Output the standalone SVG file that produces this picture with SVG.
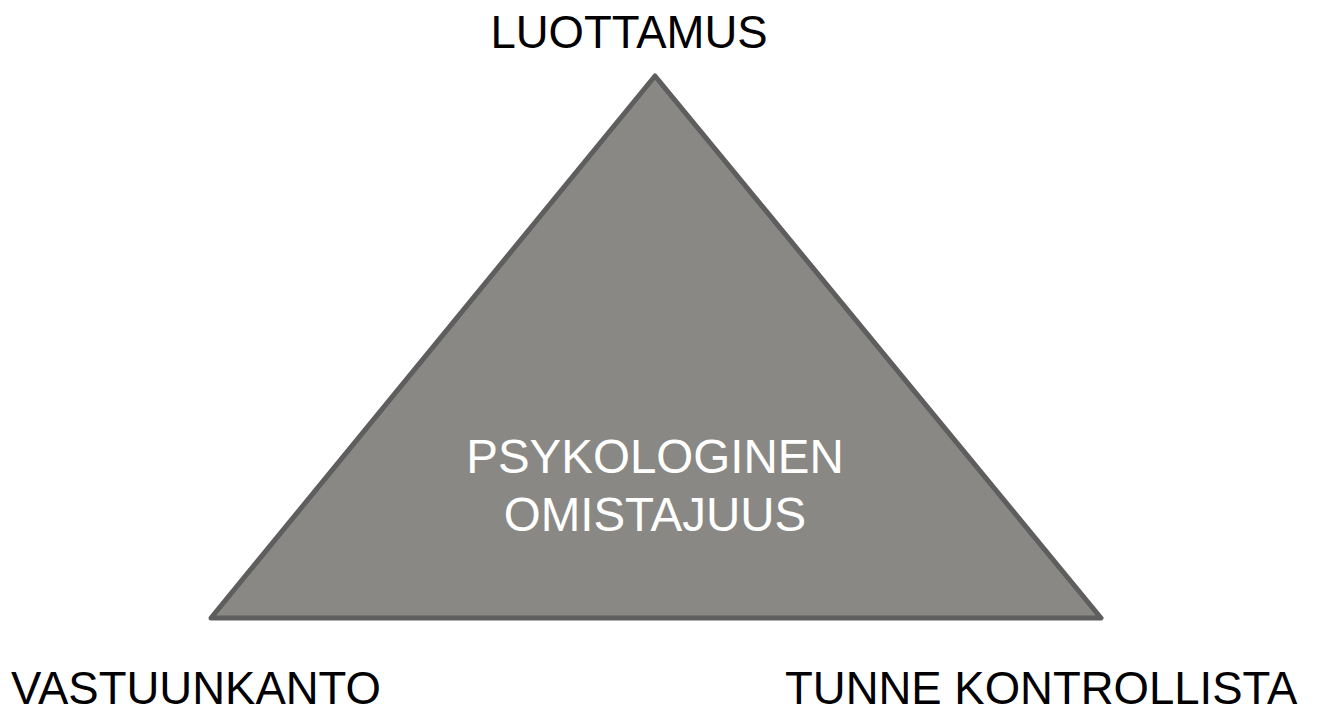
<svg xmlns="http://www.w3.org/2000/svg" width="1330" height="710" viewBox="0 0 1330 710">
<style>
.lbl{font-family:"Liberation Sans",Arial,sans-serif;font-size:45.5px;fill:#000}
.ctr{font-family:"Liberation Sans",Arial,sans-serif;font-size:47.5px;fill:#fff;text-anchor:middle}
.tri{fill:#8a8884;stroke:#5e5e5e;stroke-width:5;stroke-linejoin:round}
</style>
<rect width="1330" height="710" fill="#fff"/>
<g id="triangle">
<polygon class="tri" points="655,76 1101,618 211,618"/>
<text class="ctr" x="655" y="473">PSYKOLOGINEN</text>
<text class="ctr" x="655" y="531">OMISTAJUUS</text>
</g>
<g id="connectors"></g>
<g id="luottamus"><text class="lbl" x="629" y="48" text-anchor="middle">LUOTTAMUS</text></g>
<g id="vastuunkanto"><text class="lbl" x="11" y="704">VASTUUNKANTO</text></g>
<g id="tunne"><text class="lbl" x="785" y="704">TUNNE KONTROLLISTA</text></g>
</svg>
